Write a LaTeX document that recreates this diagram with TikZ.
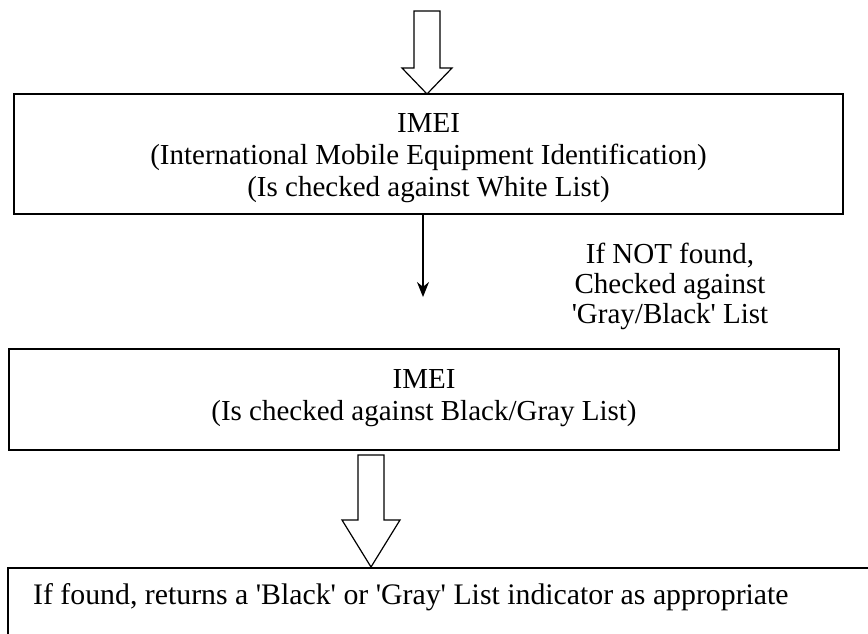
\documentclass[tikz,border=0pt]{standalone}
\usepackage{fontspec}
\setmainfont{Liberation Serif}
\usetikzlibrary{arrows.meta}
\newcommand{\sq}{\textquotesingle}
\tikzset{
  box/.style={draw, line width=1.7pt, inner sep=0pt},
  boxtext/.style={align=center, font=\fontsize{29}{32}\selectfont},
  resultfont/.style={font=\fontsize{29.8}{32}\selectfont},
  label/.style={align=center, font=\fontsize{29}{30}\selectfont},
  blockarrow/.style={draw, line width=1.2pt, fill=white, line join=miter},
  thinarrow/.style={draw, line width=1.2pt, -{Stealth[length=15pt,width=12pt]}}
}
\begin{document}
\begin{tikzpicture}[x=1pt,y=-1pt]
\useasboundingbox (0,0) rectangle (868,633);
% first check: white list
\node[box, minimum width=829pt, minimum height=120pt] (white) at (428.5,154) {};
\node[boxtext] (whitetxt) at (428.5,158) {IMEI\\(International Mobile Equipment Identification)\\(Is checked against White List)};
% second check: black/gray list
\node[box, minimum width=830pt, minimum height=101pt] (black) at (424,399.5) {};
\node[boxtext] (blacktxt) at (424,398) {IMEI\\(Is checked against Black/Gray List)};
% result box, running off the page edge
\node[box, anchor=north west, minimum width=880pt, minimum height=100pt] (result) at (7,567) {};
\node[resultfont, anchor=base west, inner sep=0pt] (resulttxt) at (33,604) {If found, returns a \sq Black\sq{} or \sq Gray\sq{} List indicator as appropriate};
% incoming block arrow
\coordinate (in) at (427,94);
\draw[blockarrow] (414,11) -- (440,11) -- (440,68) -- (452,68) -- (in) -- (402,68) -- (414,68) -- cycle;
% thin arrow between the checks
\coordinate (mid) at (423,297);
\draw[thinarrow] (white.south -| mid) -- (mid);
\node[label] (cond) at (670,286) {If NOT found,\\Checked against\\\sq Gray/Black\sq{} List};
% block arrow into the result
\coordinate (out) at (371,567);
\draw[blockarrow] (358,455) -- (384,455) -- (384,520) -- (400,520) -- (out) -- (342,520) -- (358,520) -- cycle;
\end{tikzpicture}
\end{document}
